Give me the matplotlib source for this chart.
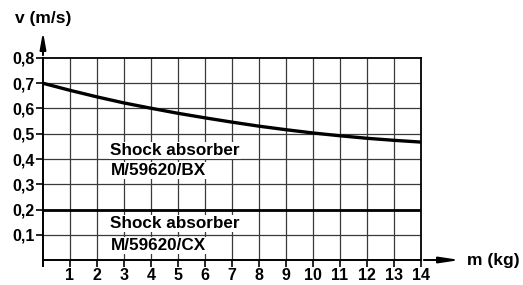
import numpy as np
import matplotlib.pyplot as plt

plt.rcParams['font.family'] = ['Liberation Sans', 'DejaVu Sans']
plt.rcParams['font.weight'] = 'bold'

masa = np.arange(0, 15)
v_bx = [0.700, 0.672, 0.646, 0.622, 0.601, 0.581, 0.563, 0.546,
        0.530, 0.516, 0.503, 0.492, 0.482, 0.474, 0.467]
v_cx = [0.2] * len(masa)

x_ticks = np.arange(1, 15)
y_ticks = np.arange(1, 9) / 10
y_labels = ["0,1", "0,2", "0,3", "0,4", "0,5", "0,6", "0,7", "0,8"]

fig = plt.figure(figsize=(5.23, 2.85), dpi=100)
ax = fig.add_axes([0.0822, 0.0877, 0.7228, 0.7088])

ax.set_xlim(0, 14)
ax.set_ylim(0, 0.8)

# rejilla
for xi in x_ticks[:-1]:
    ax.axvline(xi, color="#3a3a3a", lw=0.9, zorder=1)
for yi in y_ticks[:-1]:
    ax.axhline(yi, color="#3a3a3a", lw=0.9, zorder=1)

ax.plot(masa, v_bx, color="black", lw=2.4, zorder=3)
ax.plot(masa, v_cx, color="black", lw=2.0, zorder=3)

for s in ["top", "right"]:
    ax.spines[s].set_linewidth(1.3)
ax.spines["left"].set_linewidth(1.4)
ax.spines["bottom"].set_linewidth(1.4)

ax.set_xticks(x_ticks)
ax.set_xticklabels([str(x) for x in x_ticks], fontsize=11.5, fontweight="bold")
ax.set_yticks(y_ticks)
ax.set_yticklabels(y_labels, fontsize=11.5, fontweight="bold")
ax.tick_params(direction="out", length=5, width=1.2, pad=1)

# etiquetas de las curvas
caja = dict(facecolor="white", edgecolor="none", pad=1)
tam = 12.3
ax.text(2.5, 0.416, "Shock absorber", fontsize=tam, fontweight="bold", va="baseline", bbox=caja, zorder=4)
ax.text(2.5, 0.337, "M/59620/BX", fontsize=tam, fontweight="bold", va="baseline", bbox=caja, zorder=4)
ax.text(2.5, 0.127, "Shock absorber", fontsize=tam, fontweight="bold", va="baseline", bbox=caja, zorder=4)
ax.text(2.5, 0.040, "M/59620/CX", fontsize=tam, fontweight="bold", va="baseline", bbox=caja, zorder=4)

# ejes con flecha
ax.plot([0, 0], [-0.025, 0], color="black", lw=1.4, clip_on=False)
ax.annotate("", xy=(0, 1.144), xytext=(0, 1.0), xycoords="axes fraction",
            arrowprops=dict(arrowstyle="-|>,head_length=1.0,head_width=0.18", color="black", lw=1.4))
ax.annotate("", xy=(1.111, 0), xytext=(1.0, 0), xycoords="axes fraction",
            arrowprops=dict(arrowstyle="-|>,head_length=1.2,head_width=0.18", color="black", lw=1.4))

fig.text(15 / 523, 1 - 19 / 285, "v (m/s)", fontsize=12.5, fontweight="bold", va="center")
fig.text(467 / 523, 1 - 260 / 285, "m (kg)", fontsize=12.5, fontweight="bold", va="center")

fig.savefig("out.png", dpi=100)
